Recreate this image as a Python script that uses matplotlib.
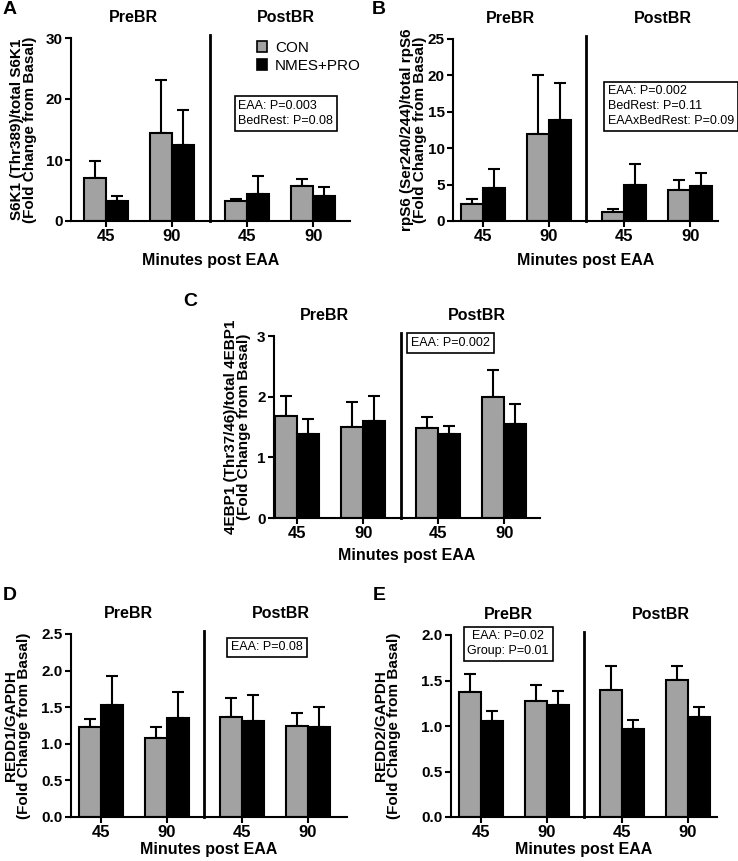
"""Five-panel bar chart: mTORC1 signalling before and after bed rest."""

import matplotlib
matplotlib.use("Agg")
import matplotlib.pyplot as plt
import numpy as np

plt.rcParams['font.family'] = ['Liberation Sans', 'DejaVu Sans']

GROUPS = ['CON', 'NMES+PRO']
PERIODS = ['PreBR', 'PostBR']
TIME_LABELS = ['45', '90', '45', '90']
XLABEL = 'Minutes post EAA'

# A: S6K1 (Thr389)
s6k1_con = [7.0, 14.5, 3.2, 5.7]
s6k1_con_top = [9.9, 23.1, 3.6, 6.9]
s6k1_nmes = [3.2, 12.4, 4.5, 4.1]
s6k1_nmes_top = [4.1, 18.2, 7.3, 5.5]

# B: rpS6 (Ser240/244)
rps6_con = [2.3, 11.95, 1.28, 4.26]
rps6_con_top = [3.0, 20.05, 1.6, 5.7]
rps6_nmes = [4.5, 13.9, 5.0, 4.8]
rps6_nmes_top = [7.1, 19.0, 7.8, 6.55]

# C: 4EBP1 (Thr37/46)
ebp1_con = [1.68, 1.50, 1.49, 2.0]
ebp1_con_top = [2.01, 1.92, 1.66, 2.44]
ebp1_nmes = [1.39, 1.60, 1.38, 1.55]
ebp1_nmes_top = [1.63, 2.01, 1.52, 1.88]

# D: REDD1
redd1_con = [1.23, 1.08, 1.37, 1.25]
redd1_con_top = [1.34, 1.23, 1.63, 1.42]
redd1_nmes = [1.53, 1.35, 1.31, 1.23]
redd1_nmes_top = [1.92, 1.71, 1.66, 1.50]

# E: REDD2
redd2_con = [1.37, 1.27, 1.40, 1.51]
redd2_con_top = [1.57, 1.45, 1.66, 1.66]
redd2_nmes = [1.06, 1.23, 0.97, 1.10]
redd2_nmes_top = [1.16, 1.39, 1.07, 1.21]

CON_COLOR = '#a2a2a2'
NMES_COLOR = '#000000'
W, H = 738, 861
POS = np.array([0.0, 1.0, 2.14, 3.14])
BAR_W = 0.333
DIVIDER = 1.57


def add_panel(fig, rect_px, xlim, letter, letter_px, con, con_top, nmes, nmes_top,
              ymax, yticks, yfmt, ylabel, ylabel_right_px, xlabel_pad,
              stats, stats_xy, stats_ha='left', legend=False):
    """Draw one panel; rect_px is (left, top, right, bottom) in pixels."""
    l, t, r, b = rect_px
    ax = fig.add_axes([l / W, 1 - b / H, (r - l) / W, (b - t) / H])

    con = np.asarray(con)
    nmes = np.asarray(nmes)
    con_err = np.asarray(con_top) - con
    nmes_err = np.asarray(nmes_top) - nmes

    for xs, vals, errs, color in [(POS - BAR_W / 2, con, con_err, CON_COLOR),
                                  (POS + BAR_W / 2, nmes, nmes_err, NMES_COLOR)]:
        ax.errorbar(xs, vals, yerr=[np.zeros_like(errs), errs], fmt='none',
                    ecolor='black', elinewidth=1.5, capsize=4.5, capthick=1.5,
                    zorder=1)
        ax.bar(xs, vals, BAR_W, color=color, edgecolor='black', linewidth=1.5,
               zorder=2)

    ax.axvline(DIVIDER, ymax=1.015, color='black', lw=2, zorder=3, clip_on=False)

    ax.set_xlim(*xlim)
    ax.set_ylim(0, ymax)
    ax.set_xticks(POS)
    ax.set_xticklabels(TIME_LABELS, fontsize=12, fontweight='bold')
    ax.set_yticks(yticks)
    ax.set_yticklabels([yfmt.format(v) for v in yticks], fontsize=11,
                       fontweight='bold')
    ax.tick_params(width=1.5, length=4, pad=2)
    for side in ['top', 'right']:
        ax.spines[side].set_visible(False)
    for side in ['left', 'bottom']:
        ax.spines[side].set_linewidth(1.5)

    ax.set_xlabel(XLABEL, fontsize=11.5, fontweight='bold', labelpad=xlabel_pad)
    ax.set_ylabel(ylabel, fontsize=11, fontweight='bold', linespacing=0.9)
    ax.yaxis.set_label_coords((ylabel_right_px - l) / (r - l), 0.5)

    for xc, name in zip([0.42, 2.73], PERIODS):
        ax.annotate(name, xy=(xc, 1), xycoords=('data', 'axes fraction'),
                    xytext=(0, 15), textcoords='offset points', ha='center',
                    va='center', fontsize=11.5, fontweight='bold',
                    annotation_clip=False)

    fig.text(letter_px[0] / W, 1 - letter_px[1] / H, letter, fontsize=14,
             fontweight='bold', ha='left', va='center')

    ax.text(stats_xy[0], stats_xy[1], stats, transform=ax.transAxes,
            fontsize=9, ha=stats_ha, va='top', multialignment=stats_ha,
            linespacing=1.3,
            bbox=dict(boxstyle='square,pad=0.3', fc='white', ec='black', lw=1.2))

    if legend:
        handles = [plt.Rectangle((0, 0), 1, 1, fc=c, ec='black', lw=1.2)
                   for c in [CON_COLOR, NMES_COLOR]]
        ax.legend(handles, GROUPS, loc='upper left', bbox_to_anchor=(0.665, 0.985),
                  frameon=False, fontsize=11, handlelength=0.7,
                  handleheight=0.7, handletextpad=0.5, labelspacing=0.25,
                  borderpad=0, borderaxespad=0)
    return ax


fig = plt.figure(figsize=(W / 100, H / 100), dpi=100)

add_panel(fig, (71, 38, 350, 221), (-0.53, 3.70), 'A', (3, 10),
          s6k1_con, s6k1_con_top, s6k1_nmes, s6k1_nmes_top,
          30, [0, 10, 20, 30], '{:.0f}',
          'S6K1 (Thr389)/total S6K1\n(Fold Change from Basal)', 37, 6,
          'EAA: P=0.003\nBedRest: P=0.08', (0.600, 0.660), legend=True)

add_panel(fig, (453, 39, 718, 221), (-0.45, 3.56), 'B', (372, 10),
          rps6_con, rps6_con_top, rps6_nmes, rps6_nmes_top,
          25, [0, 5, 10, 15, 20, 25], '{:.0f}',
          'rpS6 (Ser240/244)/total rpS6\n(Fold Change from Basal)', 427, 6,
          'EAA: P=0.002\nBedRest: P=0.11\nEAAxBedRest: P=0.09', (0.585, 0.745))

add_panel(fig, (274, 336, 540, 518), (-0.35, 3.68), 'C', (183, 301),
          ebp1_con, ebp1_con_top, ebp1_nmes, ebp1_nmes_top,
          3, [0, 1, 2, 3], '{:.0f}',
          '4EBP1 (Thr37/46)/total 4EBP1\n(Fold Change from Basal)', 251, 5,
          'EAA: P=0.002', (0.515, 0.995))

add_panel(fig, (71, 634, 347, 817), (-0.45, 3.73), 'D', (3, 596),
          redd1_con, redd1_con_top, redd1_nmes, redd1_nmes_top,
          2.5, [0, 0.5, 1.0, 1.5, 2.0, 2.5], '{:.1f}',
          'REDD1/GAPDH\n(Fold Change from Basal)', 31, 1,
          'EAA: P=0.08', (0.580, 0.960))

add_panel(fig, (451, 635, 717, 817), (-0.45, 3.58), 'E', (373, 596),
          redd2_con, redd2_con_top, redd2_nmes, redd2_nmes_top,
          2.0, [0, 0.5, 1.0, 1.5, 2.0], '{:.1f}',
          'REDD2/GAPDH\n(Fold Change from Basal)', 401, 1,
          'EAA: P=0.02\nGroup: P=0.01', (0.215, 1.025), stats_ha='center')

fig.savefig('out.png', dpi=100)
